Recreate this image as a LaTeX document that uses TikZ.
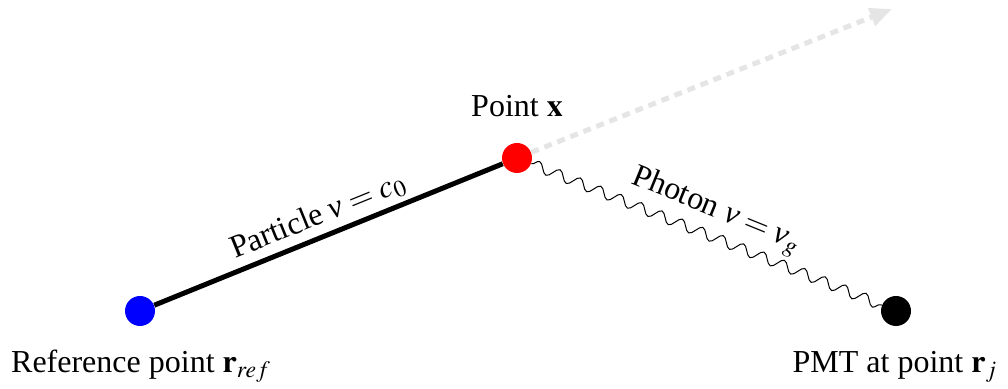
\documentclass[tikz,border=0pt]{standalone}
\usepackage{mathptmx}
\usepackage{fontspec}
\setmainfont{Liberation Serif}
\usetikzlibrary{arrows.meta,decorations.pathmorphing}
\newcommand{\nuit}{\mbox{\itshape ν}}
\begin{document}
\begin{tikzpicture}[x=0.5pt,y=0.5pt,
  dot/.style={circle,fill=#1,draw=none,minimum size=15pt,inner sep=0pt},
  lbl/.style={font=\fontsize{16}{19}\selectfont,inner sep=0pt},
  particle/.style={line width=2.5pt,black},
  photon/.style={line width=0.5pt,black,decorate,decoration={snake,amplitude=2.6pt,segment length=11pt}},
  ghost/.style={line width=2.5pt,black!10,dash pattern=on 4pt off 3pt,-{Triangle[length=11pt,width=9pt]}}]
\useasboundingbox (0,0) rectangle (1008,389);
\node[dot=blue] (ref) at (140,78) {};
\node[dot=red] (x) at (517,231) {};
\node[dot=black] (pmt) at (896,78) {};
\coordinate (dir) at (892,380);
\draw[ghost] (x) -- (dir);
\draw[particle] (ref) -- (x);
\draw[photon] (x) -- (pmt);
\node[lbl,anchor=base] (xl) at (517,272) {Point $\mathbf{x}$};
\node[lbl,anchor=base] (refl) at (141,16) {Reference point $\mathbf{r}_{ref}$};
\node[lbl,anchor=base] (pmtl) at (895,16) {PMT at point $\mathbf{r}_j$};
\node[lbl,rotate=22.1] (pl) at (318,173) {Particle \nuit${} = c_0$};
\node[lbl,rotate=-22.1] (phl) at (716,178) {Photon \nuit${} = {}$\nuit$_g$};
\end{tikzpicture}
\end{document}
